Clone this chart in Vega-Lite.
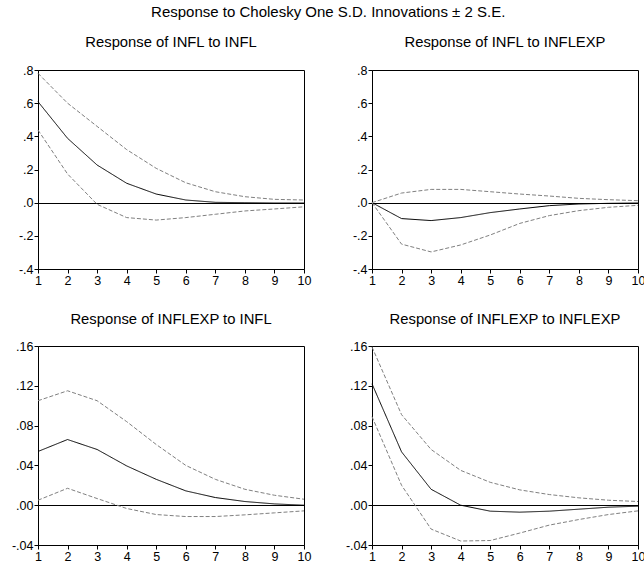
{
  "$schema": "https://vega.github.io/schema/vega-lite/v6.json",
  "padding": {"left": 10, "top": 4, "right": 0, "bottom": 0},
  "background": "white",
  "config": {
    "font": "Liberation Sans",
    "view": {"stroke": "black", "strokeWidth": 1},
    "axis": {"domainColor": "black", "tickColor": "black", "labelColor": "black", "labelFontSize": 12.5, "labelFont": "Liberation Sans", "tickSize": 4, "title": null, "labelPadding": 1, "labelOverlap": false, "labelFlush": false},
    "axisX": {"grid": false},
    "title": {"font": "Liberation Sans", "fontWeight": "normal", "color": "black"}
  },
  "title": {"text": "Response to Cholesky One S.D. Innovations ± 2 S.E.", "fontSize": 15, "anchor": "middle", "offset": 15},
  "datasets": {
    "irf": [
      {"panel": "p1", "step": 1, "series": "center", "value": 0.609},
      {"panel": "p1", "step": 2, "series": "center", "value": 0.388},
      {"panel": "p1", "step": 3, "series": "center", "value": 0.227},
      {"panel": "p1", "step": 4, "series": "center", "value": 0.117},
      {"panel": "p1", "step": 5, "series": "center", "value": 0.052},
      {"panel": "p1", "step": 6, "series": "center", "value": 0.016},
      {"panel": "p1", "step": 7, "series": "center", "value": 0.002},
      {"panel": "p1", "step": 8, "series": "center", "value": 0.0},
      {"panel": "p1", "step": 9, "series": "center", "value": -0.002},
      {"panel": "p1", "step": 10, "series": "center", "value": -0.002},
      {"panel": "p1", "step": 1, "series": "upper", "value": 0.78},
      {"panel": "p1", "step": 2, "series": "upper", "value": 0.6},
      {"panel": "p1", "step": 3, "series": "upper", "value": 0.46},
      {"panel": "p1", "step": 4, "series": "upper", "value": 0.32},
      {"panel": "p1", "step": 5, "series": "upper", "value": 0.207},
      {"panel": "p1", "step": 6, "series": "upper", "value": 0.12},
      {"panel": "p1", "step": 7, "series": "upper", "value": 0.066},
      {"panel": "p1", "step": 8, "series": "upper", "value": 0.036},
      {"panel": "p1", "step": 9, "series": "upper", "value": 0.02},
      {"panel": "p1", "step": 10, "series": "upper", "value": 0.016},
      {"panel": "p1", "step": 1, "series": "lower", "value": 0.438},
      {"panel": "p1", "step": 2, "series": "lower", "value": 0.173},
      {"panel": "p1", "step": 3, "series": "lower", "value": -0.01},
      {"panel": "p1", "step": 4, "series": "lower", "value": -0.09},
      {"panel": "p1", "step": 5, "series": "lower", "value": -0.105},
      {"panel": "p1", "step": 6, "series": "lower", "value": -0.09},
      {"panel": "p1", "step": 7, "series": "lower", "value": -0.07},
      {"panel": "p1", "step": 8, "series": "lower", "value": -0.05},
      {"panel": "p1", "step": 9, "series": "lower", "value": -0.038},
      {"panel": "p1", "step": 10, "series": "lower", "value": -0.025},

      {"panel": "p2", "step": 1, "series": "center", "value": 0.0},
      {"panel": "p2", "step": 2, "series": "center", "value": -0.096},
      {"panel": "p2", "step": 3, "series": "center", "value": -0.108},
      {"panel": "p2", "step": 4, "series": "center", "value": -0.09},
      {"panel": "p2", "step": 5, "series": "center", "value": -0.06},
      {"panel": "p2", "step": 6, "series": "center", "value": -0.038},
      {"panel": "p2", "step": 7, "series": "center", "value": -0.018},
      {"panel": "p2", "step": 8, "series": "center", "value": -0.008},
      {"panel": "p2", "step": 9, "series": "center", "value": -0.004},
      {"panel": "p2", "step": 10, "series": "center", "value": -0.002},
      {"panel": "p2", "step": 1, "series": "upper", "value": 0.0},
      {"panel": "p2", "step": 2, "series": "upper", "value": 0.058},
      {"panel": "p2", "step": 3, "series": "upper", "value": 0.08},
      {"panel": "p2", "step": 4, "series": "upper", "value": 0.08},
      {"panel": "p2", "step": 5, "series": "upper", "value": 0.066},
      {"panel": "p2", "step": 6, "series": "upper", "value": 0.052},
      {"panel": "p2", "step": 7, "series": "upper", "value": 0.04},
      {"panel": "p2", "step": 8, "series": "upper", "value": 0.026},
      {"panel": "p2", "step": 9, "series": "upper", "value": 0.018},
      {"panel": "p2", "step": 10, "series": "upper", "value": 0.012},
      {"panel": "p2", "step": 1, "series": "lower", "value": 0.0},
      {"panel": "p2", "step": 2, "series": "lower", "value": -0.25},
      {"panel": "p2", "step": 3, "series": "lower", "value": -0.297},
      {"panel": "p2", "step": 4, "series": "lower", "value": -0.255},
      {"panel": "p2", "step": 5, "series": "lower", "value": -0.195},
      {"panel": "p2", "step": 6, "series": "lower", "value": -0.125},
      {"panel": "p2", "step": 7, "series": "lower", "value": -0.078},
      {"panel": "p2", "step": 8, "series": "lower", "value": -0.048},
      {"panel": "p2", "step": 9, "series": "lower", "value": -0.028},
      {"panel": "p2", "step": 10, "series": "lower", "value": -0.016},

      {"panel": "p3", "step": 1, "series": "center", "value": 0.054},
      {"panel": "p3", "step": 2, "series": "center", "value": 0.066},
      {"panel": "p3", "step": 3, "series": "center", "value": 0.056},
      {"panel": "p3", "step": 4, "series": "center", "value": 0.0395},
      {"panel": "p3", "step": 5, "series": "center", "value": 0.026},
      {"panel": "p3", "step": 6, "series": "center", "value": 0.0144},
      {"panel": "p3", "step": 7, "series": "center", "value": 0.0077},
      {"panel": "p3", "step": 8, "series": "center", "value": 0.0037},
      {"panel": "p3", "step": 9, "series": "center", "value": 0.0013},
      {"panel": "p3", "step": 10, "series": "center", "value": 0.0},
      {"panel": "p3", "step": 1, "series": "upper", "value": 0.105},
      {"panel": "p3", "step": 2, "series": "upper", "value": 0.115},
      {"panel": "p3", "step": 3, "series": "upper", "value": 0.105},
      {"panel": "p3", "step": 4, "series": "upper", "value": 0.084},
      {"panel": "p3", "step": 5, "series": "upper", "value": 0.061},
      {"panel": "p3", "step": 6, "series": "upper", "value": 0.04},
      {"panel": "p3", "step": 7, "series": "upper", "value": 0.026},
      {"panel": "p3", "step": 8, "series": "upper", "value": 0.016},
      {"panel": "p3", "step": 9, "series": "upper", "value": 0.01},
      {"panel": "p3", "step": 10, "series": "upper", "value": 0.006},
      {"panel": "p3", "step": 1, "series": "lower", "value": 0.005},
      {"panel": "p3", "step": 2, "series": "lower", "value": 0.017},
      {"panel": "p3", "step": 3, "series": "lower", "value": 0.0067},
      {"panel": "p3", "step": 4, "series": "lower", "value": -0.0033},
      {"panel": "p3", "step": 5, "series": "lower", "value": -0.0094},
      {"panel": "p3", "step": 6, "series": "lower", "value": -0.0114},
      {"panel": "p3", "step": 7, "series": "lower", "value": -0.0114},
      {"panel": "p3", "step": 8, "series": "lower", "value": -0.0097},
      {"panel": "p3", "step": 9, "series": "lower", "value": -0.0077},
      {"panel": "p3", "step": 10, "series": "lower", "value": -0.0057},

      {"panel": "p4", "step": 1, "series": "center", "value": 0.122},
      {"panel": "p4", "step": 2, "series": "center", "value": 0.0536},
      {"panel": "p4", "step": 3, "series": "center", "value": 0.016},
      {"panel": "p4", "step": 4, "series": "center", "value": 0.0},
      {"panel": "p4", "step": 5, "series": "center", "value": -0.006},
      {"panel": "p4", "step": 6, "series": "center", "value": -0.007},
      {"panel": "p4", "step": 7, "series": "center", "value": -0.006},
      {"panel": "p4", "step": 8, "series": "center", "value": -0.004},
      {"panel": "p4", "step": 9, "series": "center", "value": -0.002},
      {"panel": "p4", "step": 10, "series": "center", "value": -0.001},
      {"panel": "p4", "step": 1, "series": "upper", "value": 0.159},
      {"panel": "p4", "step": 2, "series": "upper", "value": 0.091},
      {"panel": "p4", "step": 3, "series": "upper", "value": 0.056},
      {"panel": "p4", "step": 4, "series": "upper", "value": 0.035},
      {"panel": "p4", "step": 5, "series": "upper", "value": 0.023},
      {"panel": "p4", "step": 6, "series": "upper", "value": 0.0154},
      {"panel": "p4", "step": 7, "series": "upper", "value": 0.0107},
      {"panel": "p4", "step": 8, "series": "upper", "value": 0.0074},
      {"panel": "p4", "step": 9, "series": "upper", "value": 0.005},
      {"panel": "p4", "step": 10, "series": "upper", "value": 0.0037},
      {"panel": "p4", "step": 1, "series": "lower", "value": 0.089},
      {"panel": "p4", "step": 2, "series": "lower", "value": 0.02},
      {"panel": "p4", "step": 3, "series": "lower", "value": -0.024},
      {"panel": "p4", "step": 4, "series": "lower", "value": -0.036},
      {"panel": "p4", "step": 5, "series": "lower", "value": -0.0355},
      {"panel": "p4", "step": 6, "series": "lower", "value": -0.028},
      {"panel": "p4", "step": 7, "series": "lower", "value": -0.02},
      {"panel": "p4", "step": 8, "series": "lower", "value": -0.0144},
      {"panel": "p4", "step": 9, "series": "lower", "value": -0.0094},
      {"panel": "p4", "step": 10, "series": "lower", "value": -0.0057}
    ]
  },
  "columns": 2,
  "spacing": {"row": 77, "column": 68},
  "bounds": "flush",
  "concat": [
    {
      "width": 266, "height": 199,
      "title": {"text": "Response of INFL to INFL", "fontSize": 14.8, "offset": 14},
      "data": {"name": "irf"},
      "transform": [{"filter": "datum.panel === 'p1'"}],
      "mark": {"type": "line", "strokeWidth": 1},
      "encoding": {
        "x": {"field": "step", "type": "quantitative", "scale": {"domain": [1, 10], "nice": false}, "axis": {"values": [1,2,3,4,5,6,7,8,9,10], "format": "d", "labelOverlap": false}},
        "y": {"field": "value", "type": "quantitative", "scale": {"domain": [-0.4, 0.8], "nice": false, "zero": false}, "axis": {"values": [-0.4,-0.2,0,0.2,0.4,0.6,0.8], "labelOverlap": false, "grid": true, "gridColor": {"condition": {"test": "datum.value == 0", "value": "black"}, "value": "white"}, "gridOpacity": {"condition": {"test": "datum.value == 0", "value": 1}, "value": 0}, "labelExpr": "replace(replace(format(datum.value, '.1f'), '0.', '.'), '\u2212', '-')"}},
        "detail": {"field": "series"},
        "color": {"field": "series", "type": "nominal", "scale": {"domain": ["center","upper","lower"], "range": ["#000000","#808080","#808080"]}, "legend": null},
        "strokeDash": {"field": "series", "type": "nominal", "scale": {"domain": ["center","upper","lower"], "range": [[1,0],[4,2],[4,2]]}, "legend": null}
      }
    },
    {
      "width": 266, "height": 199,
      "title": {"text": "Response of INFL to INFLEXP", "fontSize": 14.8, "offset": 14},
      "data": {"name": "irf"},
      "transform": [{"filter": "datum.panel === 'p2'"}],
      "mark": {"type": "line", "strokeWidth": 1},
      "encoding": {
        "x": {"field": "step", "type": "quantitative", "scale": {"domain": [1, 10], "nice": false}, "axis": {"values": [1,2,3,4,5,6,7,8,9,10], "format": "d", "labelOverlap": false}},
        "y": {"field": "value", "type": "quantitative", "scale": {"domain": [-0.4, 0.8], "nice": false, "zero": false}, "axis": {"values": [-0.4,-0.2,0,0.2,0.4,0.6,0.8], "labelOverlap": false, "grid": true, "gridColor": {"condition": {"test": "datum.value == 0", "value": "black"}, "value": "white"}, "gridOpacity": {"condition": {"test": "datum.value == 0", "value": 1}, "value": 0}, "labelExpr": "replace(replace(format(datum.value, '.1f'), '0.', '.'), '\u2212', '-')"}},
        "detail": {"field": "series"},
        "color": {"field": "series", "type": "nominal", "scale": {"domain": ["center","upper","lower"], "range": ["#000000","#808080","#808080"]}, "legend": null},
        "strokeDash": {"field": "series", "type": "nominal", "scale": {"domain": ["center","upper","lower"], "range": [[1,0],[4,2],[4,2]]}, "legend": null}
      }
    },
    {
      "width": 266, "height": 199,
      "title": {"text": "Response of INFLEXP to INFL", "fontSize": 14.8, "offset": 13},
      "data": {"name": "irf"},
      "transform": [{"filter": "datum.panel === 'p3'"}],
      "mark": {"type": "line", "strokeWidth": 1},
      "encoding": {
        "x": {"field": "step", "type": "quantitative", "scale": {"domain": [1, 10], "nice": false}, "axis": {"values": [1,2,3,4,5,6,7,8,9,10], "format": "d", "labelOverlap": false}},
        "y": {"field": "value", "type": "quantitative", "scale": {"domain": [-0.04, 0.16], "nice": false, "zero": false}, "axis": {"values": [-0.04,0,0.04,0.08,0.12,0.16], "labelOverlap": false, "grid": true, "gridColor": {"condition": {"test": "datum.value == 0", "value": "black"}, "value": "white"}, "gridOpacity": {"condition": {"test": "datum.value == 0", "value": 1}, "value": 0}, "labelExpr": "replace(replace(format(datum.value, '.2f'), '0.', '.'), '\u2212', '-')"}},
        "detail": {"field": "series"},
        "color": {"field": "series", "type": "nominal", "scale": {"domain": ["center","upper","lower"], "range": ["#000000","#808080","#808080"]}, "legend": null},
        "strokeDash": {"field": "series", "type": "nominal", "scale": {"domain": ["center","upper","lower"], "range": [[1,0],[4,2],[4,2]]}, "legend": null}
      }
    },
    {
      "width": 266, "height": 199,
      "title": {"text": "Response of INFLEXP to INFLEXP", "fontSize": 14.8, "offset": 13},
      "data": {"name": "irf"},
      "transform": [{"filter": "datum.panel === 'p4'"}],
      "mark": {"type": "line", "strokeWidth": 1},
      "encoding": {
        "x": {"field": "step", "type": "quantitative", "scale": {"domain": [1, 10], "nice": false}, "axis": {"values": [1,2,3,4,5,6,7,8,9,10], "format": "d", "labelOverlap": false}},
        "y": {"field": "value", "type": "quantitative", "scale": {"domain": [-0.04, 0.16], "nice": false, "zero": false}, "axis": {"values": [-0.04,0,0.04,0.08,0.12,0.16], "labelOverlap": false, "grid": true, "gridColor": {"condition": {"test": "datum.value == 0", "value": "black"}, "value": "white"}, "gridOpacity": {"condition": {"test": "datum.value == 0", "value": 1}, "value": 0}, "labelExpr": "replace(replace(format(datum.value, '.2f'), '0.', '.'), '\u2212', '-')"}},
        "detail": {"field": "series"},
        "color": {"field": "series", "type": "nominal", "scale": {"domain": ["center","upper","lower"], "range": ["#000000","#808080","#808080"]}, "legend": null},
        "strokeDash": {"field": "series", "type": "nominal", "scale": {"domain": ["center","upper","lower"], "range": [[1,0],[4,2],[4,2]]}, "legend": null}
      }
    }
  ]
}
